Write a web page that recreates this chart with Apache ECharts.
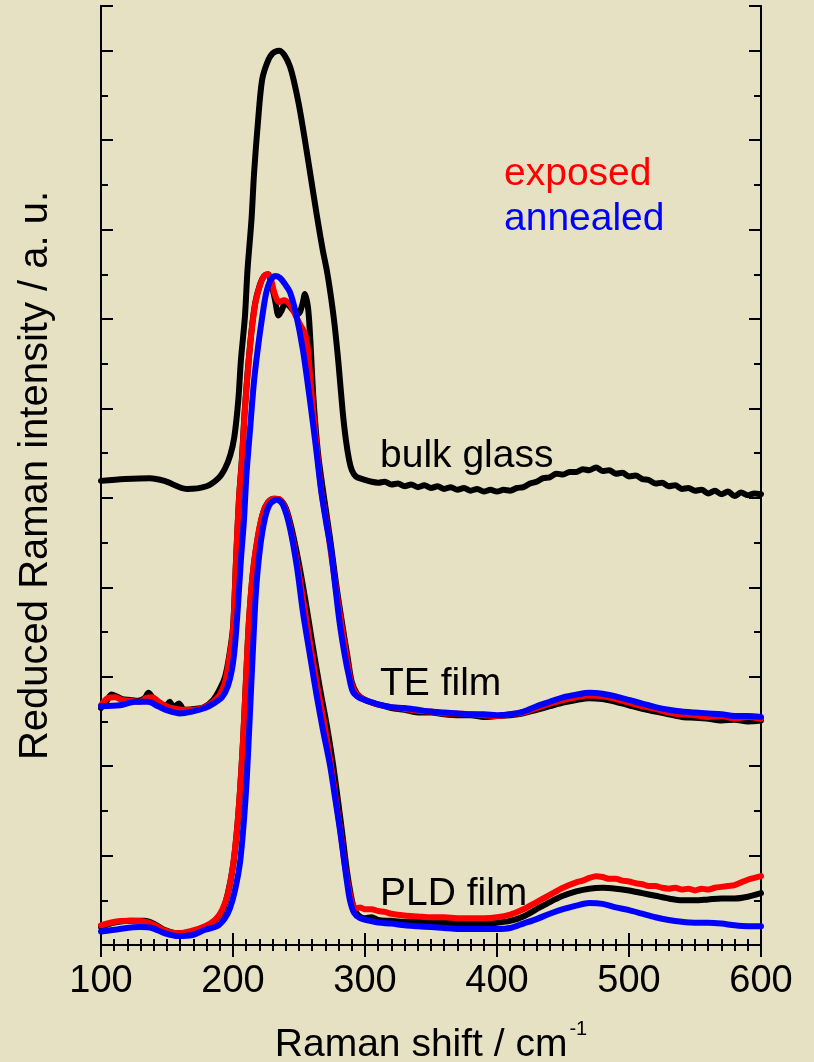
<!DOCTYPE html>
<html>
<head>
<meta charset="utf-8">
<script src="https://cdn.jsdelivr.net/npm/echarts@6/dist/echarts.min.js"></script>
<style>
html,body{margin:0;padding:0;background:#E7E1C3;}
#c{width:814px;height:1062px;}
</style>
</head>
<body>
<div id="c"></div>
<script>
// x: Raman shift (cm^-1), y: reduced intensity (a.u., offset curves)
var xTicks = [100, 200, 300, 400, 500, 600];

var bulkGlass = [[100,5.19],[118,5.21],[137,5.22],[148,5.19],[165,5.10],[180,5.13],[189,5.22],[194,5.33],[198,5.48],[201,5.68],[204,6.09],[206,6.54],[209,7.02],[211,7.55],[214,8.11],[216,8.64],[219,9.22],[222,9.67],[226,9.87],[230,9.97],[235,10.0],[239,9.95],[243,9.83],[246,9.67],[250,9.39],[254.5,9.00],[259,8.58],[263.5,8.16],[268,7.77],[271,7.55],[274,7.27],[277,6.93],[280,6.49],[283,5.98],[285.5,5.65],[288,5.42],[290,5.31],[293,5.24],[298,5.21],[305,5.18],[310,5.17],[315,5.18],[320,5.15],[325,5.16],[330,5.13],[335,5.15],[340,5.12],[345,5.14],[350,5.11],[355,5.13],[360,5.10],[365,5.12],[370,5.09],[375,5.11],[380,5.08],[385,5.10],[390,5.07],[395,5.09],[400,5.07],[405,5.09],[410,5.08],[415,5.11],[420,5.12],[425,5.16],[430,5.18],[435,5.22],[440,5.23],[445,5.27],[450,5.26],[455,5.29],[460,5.29],[465,5.32],[470,5.31],[475,5.34],[480,5.30],[485,5.31],[490,5.27],[495,5.28],[500,5.24],[505,5.25],[510,5.21],[515,5.20],[520,5.16],[525,5.17],[530,5.13],[535,5.14],[540,5.10],[545,5.11],[550,5.08],[555,5.09],[560,5.05],[565,5.08],[570,5.04],[575,5.07],[580,5.02],[585,5.06],[590,5.03],[595,5.05],[600,5.04]];

var teBlack = [[100,2.65],[104,2.72],[108,2.80],[112,2.78],[116,2.75],[122,2.74],[128,2.73],[133,2.76],[136,2.82],[139,2.77],[144,2.71],[149,2.67],[152,2.72],[155,2.66],[159,2.70],[163,2.63],[170,2.64],[178,2.66],[185,2.74],[190,2.86],[194,3.00],[197,3.22],[200,3.55],[202.3,4.30],[204.5,4.98],[206.8,5.45],[209,6.00],[213,6.72],[216.7,7.17],[220.5,7.39],[223.5,7.48],[226.5,7.50],[229,7.40],[232,7.20],[234.5,7.04],[237,7.10],[239.5,7.18],[243,7.14],[246.5,7.08],[249.6,7.06],[252.5,7.16],[254.5,7.28],[256.8,7.13],[258.3,6.84],[261,6.10],[264.4,5.50],[269,5.00],[273.5,4.55],[278,4.05],[282.6,3.60],[287,3.20],[290,2.94],[294,2.81],[300,2.74],[307.6,2.70],[315,2.67],[320,2.65],[330,2.63],[340,2.60],[350,2.60],[360,2.58],[370,2.57],[380,2.57],[390,2.55],[400,2.56],[410,2.57],[420,2.59],[430,2.63],[440,2.67],[450,2.71],[460,2.74],[470,2.76],[480,2.75],[490,2.72],[500,2.68],[510,2.64],[520,2.61],[530,2.58],[540,2.55],[550,2.54],[560,2.53],[570,2.51],[580,2.52],[590,2.50],[600,2.51]];

var teExposed = [[100,2.68],[105,2.76],[110.6,2.77],[116,2.74],[122,2.73],[129.5,2.72],[134,2.76],[138.6,2.77],[144.7,2.71],[150.8,2.66],[156.8,2.64],[163.6,2.63],[171,2.63],[178.8,2.66],[185,2.72],[190,2.80],[194,2.94],[197,3.19],[200,3.52],[202.3,4.30],[204.5,4.98],[206.8,5.42],[209,5.98],[213,6.71],[216.7,7.16],[220.5,7.38],[223.5,7.48],[226.5,7.50],[228.8,7.44],[231.8,7.27],[234.8,7.19],[238.6,7.21],[243.2,7.16],[247.7,7.03],[251.5,6.92],[254.5,6.84],[256.8,6.65],[259,6.26],[261.4,5.87],[264.4,5.42],[267.4,5.03],[271.2,4.70],[275,4.30],[278.8,3.91],[282.6,3.54],[286.4,3.19],[289.4,2.94],[292.4,2.83],[297.7,2.76],[305.3,2.71],[312,2.68],[320,2.66],[330,2.64],[340,2.62],[350,2.61],[360,2.59],[370,2.59],[380,2.58],[390,2.57],[400,2.56],[410,2.58],[420,2.60],[430,2.65],[440,2.70],[450,2.74],[460,2.77],[470,2.79],[480,2.78],[490,2.75],[500,2.71],[510,2.67],[520,2.64],[530,2.60],[540,2.58],[550,2.57],[560,2.55],[570,2.56],[580,2.53],[590,2.55],[600,2.53]];

var teAnnealed = [[100,2.67],[114.4,2.68],[125.8,2.72],[135.6,2.72],[143.2,2.67],[150.8,2.62],[159.8,2.59],[169,2.61],[178.8,2.65],[186.4,2.71],[191.7,2.77],[196.2,2.90],[199.2,3.08],[201.5,3.35],[203.8,3.80],[206,4.31],[208.3,4.75],[210.2,5.26],[212.9,5.76],[215.9,6.30],[218.9,6.68],[222,7.01],[225,7.28],[228,7.42],[231.8,7.48],[235.6,7.46],[239.4,7.39],[243.2,7.30],[247.7,7.06],[253,6.65],[258.3,6.09],[262.9,5.56],[266.7,5.09],[270.5,4.73],[274.2,4.42],[277.3,4.03],[281,3.58],[284.8,3.23],[287.9,3.00],[290.9,2.83],[296.2,2.76],[303.8,2.72],[310,2.69],[320,2.66],[330,2.65],[340,2.63],[350,2.61],[360,2.60],[370,2.59],[380,2.58],[390,2.58],[400,2.57],[410,2.58],[420,2.61],[430,2.67],[440,2.72],[450,2.77],[460,2.80],[470,2.82],[480,2.81],[490,2.78],[500,2.74],[510,2.70],[520,2.66],[530,2.63],[540,2.61],[550,2.60],[560,2.59],[570,2.58],[580,2.56],[590,2.56],[600,2.55]];

var pldBlack = [[100,0.20],[110,0.25],[122,0.27],[133,0.27],[141,0.23],[148,0.17],[158,0.13],[169,0.15],[179,0.20],[186,0.27],[192,0.38],[196,0.57],[200,0.88],[203,1.28],[205.3,1.72],[207.6,2.28],[209.8,2.95],[212.1,3.62],[215.2,4.18],[219,4.57],[222.7,4.83],[226.5,4.95],[231,4.99],[235.6,4.98],[240.2,4.88],[245,4.62],[250,4.26],[255,3.84],[260,3.38],[265.5,2.90],[271,2.46],[275.5,2.05],[279.5,1.62],[283,1.22],[286,0.86],[289,0.58],[291.5,0.42],[295,0.33],[300,0.30],[305,0.31],[310,0.28],[320,0.27],[330,0.26],[340,0.26],[350,0.25],[360,0.25],[370,0.24],[380,0.24],[390,0.24],[400,0.25],[410,0.27],[420,0.32],[430,0.40],[440,0.48],[450,0.55],[460,0.60],[470,0.63],[480,0.64],[490,0.63],[500,0.61],[510,0.58],[520,0.55],[530,0.52],[540,0.50],[550,0.50],[560,0.51],[570,0.52],[580,0.52],[590,0.54],[600,0.58]];

var pldExposed = [[100,0.22],[110.6,0.26],[122,0.27],[133.3,0.26],[141,0.22],[148.5,0.16],[158.3,0.13],[169,0.16],[178.8,0.21],[186.4,0.28],[191.7,0.39],[196.2,0.58],[200,0.89],[203,1.29],[205.3,1.73],[207.6,2.29],[209.8,2.96],[212.1,3.63],[215.2,4.19],[218.9,4.58],[222.7,4.83],[226.5,4.95],[231,4.99],[235.6,4.98],[240.2,4.86],[244.7,4.58],[249.2,4.22],[253.8,3.80],[259,3.32],[264.4,2.85],[269.7,2.43],[274.2,2.01],[278,1.62],[281.8,1.23],[284.8,0.89],[287.9,0.62],[290.2,0.47],[293.2,0.41],[296.2,0.42],[300,0.40],[305,0.40],[310,0.38],[315,0.37],[320,0.35],[330,0.33],[340,0.32],[350,0.31],[360,0.31],[370,0.30],[380,0.30],[390,0.30],[400,0.31],[410,0.34],[420,0.40],[430,0.48],[440,0.56],[450,0.64],[460,0.70],[465,0.72],[470,0.75],[475,0.77],[480,0.76],[485,0.74],[490,0.74],[495,0.72],[500,0.71],[505,0.69],[510,0.68],[515,0.66],[520,0.66],[525,0.64],[530,0.63],[535,0.64],[540,0.62],[545,0.63],[550,0.61],[555,0.63],[560,0.62],[565,0.64],[570,0.65],[575,0.66],[580,0.67],[585,0.70],[590,0.73],[595,0.75],[600,0.77]];

var pldAnnealed = [[100,0.15],[114.4,0.18],[129.5,0.20],[138.6,0.19],[148.5,0.13],[158.3,0.10],[169,0.11],[178.8,0.17],[187.9,0.21],[193.9,0.30],[197.7,0.41],[201.5,0.61],[205.3,0.92],[208,1.34],[210.4,1.85],[212.9,2.61],[215.2,3.33],[217.4,3.95],[220.5,4.44],[224.2,4.77],[228,4.93],[233.3,4.98],[237.9,4.92],[243.2,4.66],[248.5,4.22],[253,3.72],[258.3,3.24],[263.6,2.77],[268.2,2.40],[273.5,2.01],[277.3,1.65],[281,1.29],[284.1,0.95],[286.4,0.70],[288.6,0.50],[291.7,0.36],[296.2,0.30],[303.8,0.27],[310,0.25],[320,0.24],[330,0.22],[340,0.21],[350,0.20],[360,0.19],[370,0.18],[380,0.18],[390,0.18],[400,0.18],[410,0.19],[420,0.24],[430,0.29],[440,0.35],[450,0.40],[460,0.44],[470,0.47],[480,0.46],[490,0.42],[500,0.39],[510,0.35],[520,0.31],[530,0.28],[540,0.26],[550,0.25],[560,0.25],[570,0.24],[580,0.22],[590,0.21],[600,0.21]];

var curveLabels = ['bulk glass', 'TE film', 'PLD film'];
var legendLabels = ['exposed', 'annealed'];

var FONT = '"Liberation Sans", Arial, sans-serif';
var AX = '#000';

function xAx(pos, showLabel) {
  var o = {
    type: 'value', min: xTicks[0], max: xTicks[xTicks.length - 1], interval: 100,
    position: pos,
    axisLine: { show: true, lineStyle: { color: AX, width: 2 } },
    axisTick: { show: true, inside: true, length: 12, lineStyle: { color: AX, width: 2 } },
    minorTick: { show: true, splitNumber: 10, length: 6, lineStyle: { color: AX, width: 2 } },
    splitLine: { show: false },
    axisLabel: { show: showLabel, fontSize: 38, color: '#000', fontFamily: FONT, margin: 18 }
  };
  if (showLabel) {
    o.name = '{a|Raman shift / cm}{s|-1}';
    o.nameLocation = 'middle';
    o.nameGap = 65;
    o.nameTextStyle = {
      rich: {
        a: { fontSize: 39, lineHeight: 39, fontFamily: FONT, color: '#000', padding: [20, 0, 0, 0] },
        s: { fontSize: 20, lineHeight: 20, fontFamily: FONT, color: '#000', padding: [0, 0, 12, 2] }
      }
    };
  }
  return o;
}
function yAx(pos, interval, len, withName) {
  var o = {
    type: 'value', min: 0, max: 10.5, interval: interval, position: pos,
    axisLine: { show: true, lineStyle: { color: AX, width: 2 } },
    axisTick: { show: true, inside: true, length: len, lineStyle: { color: AX, width: 2 } },
    splitLine: { show: false },
    axisLabel: { show: false }
  };
  if (withName) {
    o.name = 'Reduced Raman intensity / a. u.';
    o.nameLocation = 'middle';
    o.nameGap = 45;
    o.nameTextStyle = { fontSize: 40, fontFamily: FONT, color: '#000' };
  }
  return o;
}
function line(data, color) {
  return {
    type: 'line', data: data, xAxisIndex: 0, yAxisIndex: 0,
    showSymbol: false, symbol: 'none', smooth: 0.3,
    lineStyle: { color: color, width: 6, join: 'round', cap: 'round' },
    silent: true, z: 3
  };
}

var chart = echarts.init(document.getElementById('c'), null, { renderer: 'canvas' });
chart.setOption({
  backgroundColor: '#E7E1C3',
  animation: false,
  grid: { left: 101, right: 53, top: 6, bottom: 117, containLabel: false, outerBoundsMode: 'none' },
  xAxis: [xAx('bottom', true), xAx('top', false)],
  yAxis: [yAx('left', 1, 12, true), yAx('left', 0.5, 7, false), yAx('right', 1, 12, false), yAx('right', 0.5, 7, false)],
  series: [
    line(bulkGlass, '#000000'),
    line(teBlack, '#000000'),
    line(teExposed, '#FF0000'),
    line(teAnnealed, '#0000FF'),
    line(pldBlack, '#000000'),
    line(pldExposed, '#FF0000'),
    line(pldAnnealed, '#0000FF')
  ],
  graphic: [
    { type: 'text', left: 380, top: 437, z: 10, style: { text: curveLabels[0], font: '39px ' + FONT, fill: '#000' } },
    { type: 'text', left: 380, top: 665, z: 10, style: { text: curveLabels[1], font: '39px ' + FONT, fill: '#000' } },
    { type: 'text', left: 380, top: 875, z: 10, style: { text: curveLabels[2], font: '39px ' + FONT, fill: '#000' } },
    { type: 'text', left: 504, top: 155, z: 10, style: { text: legendLabels[0], font: '39px ' + FONT, fill: '#FF0000' } },
    { type: 'text', left: 504, top: 200, z: 10, style: { text: legendLabels[1], font: '39px ' + FONT, fill: '#0000FF' } }
  ]
});
</script>
</body>
</html>
